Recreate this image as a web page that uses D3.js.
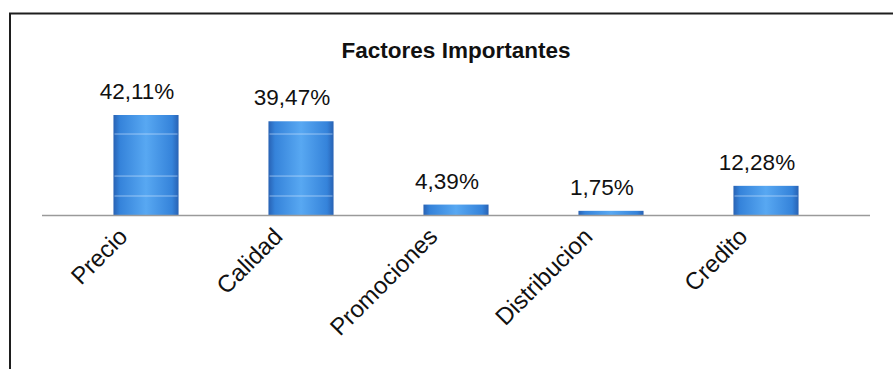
<!DOCTYPE html>
<html>
<head>
<meta charset="utf-8">
<script src="https://cdn.jsdelivr.net/npm/d3@7"></script>
<style>
  html, body { margin: 0; padding: 0; background: #ffffff; }
  svg { display: block; }
</style>
</head>
<body>
<svg id="chart" width="893" height="369"></svg>
<script>
// ---- data ----
const categories = ["Precio", "Calidad", "Promociones", "Distribucion", "Credito"];
const values = [42.11, 39.47, 4.39, 1.75, 12.28];
const valueLabels = ["42,11%", "39,47%", "4,39%", "1,75%", "12,28%"];
const chartTitle = "Factores Importantes";
const sheenLevels = [8, 16.4, 34.1]; // faint light lines seen across the bars

// ---- layout ----
const W = 893, H = 369;
const labelShift = -9;   // data labels sit slightly left of bar centres
const svg = d3.select("#chart");

const defs = svg.append("defs");
const grad = defs.append("linearGradient").attr("id", "barGrad")
  .attr("x1", "0%").attr("x2", "100%").attr("y1", "0%").attr("y2", "0%");
[["0%", "#2862b4"], ["10%", "#3583da"], ["50%", "#58a8f2"], ["90%", "#3583da"], ["100%", "#2862b4"]]
  .forEach(([o, c]) => grad.append("stop").attr("offset", o).attr("stop-color", c));

// frame (top & left visible)
svg.append("path")
  .attr("d", `M10,${H} L10,13.5 L${W},13.5`)
  .attr("fill", "none").attr("stroke", "#1e1e1e").attr("stroke-width", 2);

const x = d3.scaleBand().domain(categories).range([42, 870])
  .paddingInner(0.58).paddingOuter(0.461);
const y = d3.scaleLinear().domain([0, 42.11]).range([215, 115]);

// bars
const bars = svg.append("g");
bars.selectAll("rect").data(values).join("rect")
  .attr("x", (d, i) => x(categories[i]))
  .attr("y", d => y(d))
  .attr("width", x.bandwidth())
  .attr("height", d => y(0) - y(d))
  .attr("fill", "url(#barGrad)");

// faint sheen lines inside bars
values.forEach((v, i) => {
  sheenLevels.filter(l => l < v - 1).forEach(l => {
    bars.append("line")
      .attr("x1", x(categories[i]) + 1).attr("x2", x(categories[i]) + x.bandwidth() - 1)
      .attr("y1", y(l)).attr("y2", y(l))
      .attr("stroke", "#cfe6ff").attr("stroke-opacity", 0.6).attr("stroke-width", 1);
  });
});

// axis line
svg.append("line")
  .attr("x1", x.range()[0]).attr("x2", x.range()[1])
  .attr("y1", y(0) + 0.5).attr("y2", y(0) + 0.5)
  .attr("stroke", "#9a9a9a").attr("stroke-width", 1.6);

// value labels
svg.append("g").selectAll("text").data(values).join("text")
  .attr("x", (d, i) => x(categories[i]) + x.bandwidth() / 2 + labelShift)
  .attr("y", d => y(d) - 16)
  .attr("text-anchor", "middle")
  .attr("font-family", "'Liberation Sans', Arial, sans-serif")
  .attr("font-size", 22.5)
  .attr("fill", "#111")
  .text((d, i) => valueLabels[i]);

// category labels rotated
svg.append("g").selectAll("text").data(categories).join("text")
  .attr("transform", d => `translate(${x(d) + x.bandwidth() / 2 - 17},238) rotate(-45)`)
  .attr("text-anchor", "end")
  .attr("font-family", "'Liberation Sans', Arial, sans-serif")
  .attr("font-size", 24)
  .attr("fill", "#111")
  .text(d => d);

// title
svg.append("text")
  .attr("x", 456).attr("y", 58)
  .attr("text-anchor", "middle")
  .attr("font-family", "'Liberation Sans Narrow', 'Arial Narrow', sans-serif")
  .attr("font-weight", "bold")
  .attr("font-size", 22.5)
  .attr("fill", "#111")
  .text(chartTitle);
</script>
</body>
</html>
